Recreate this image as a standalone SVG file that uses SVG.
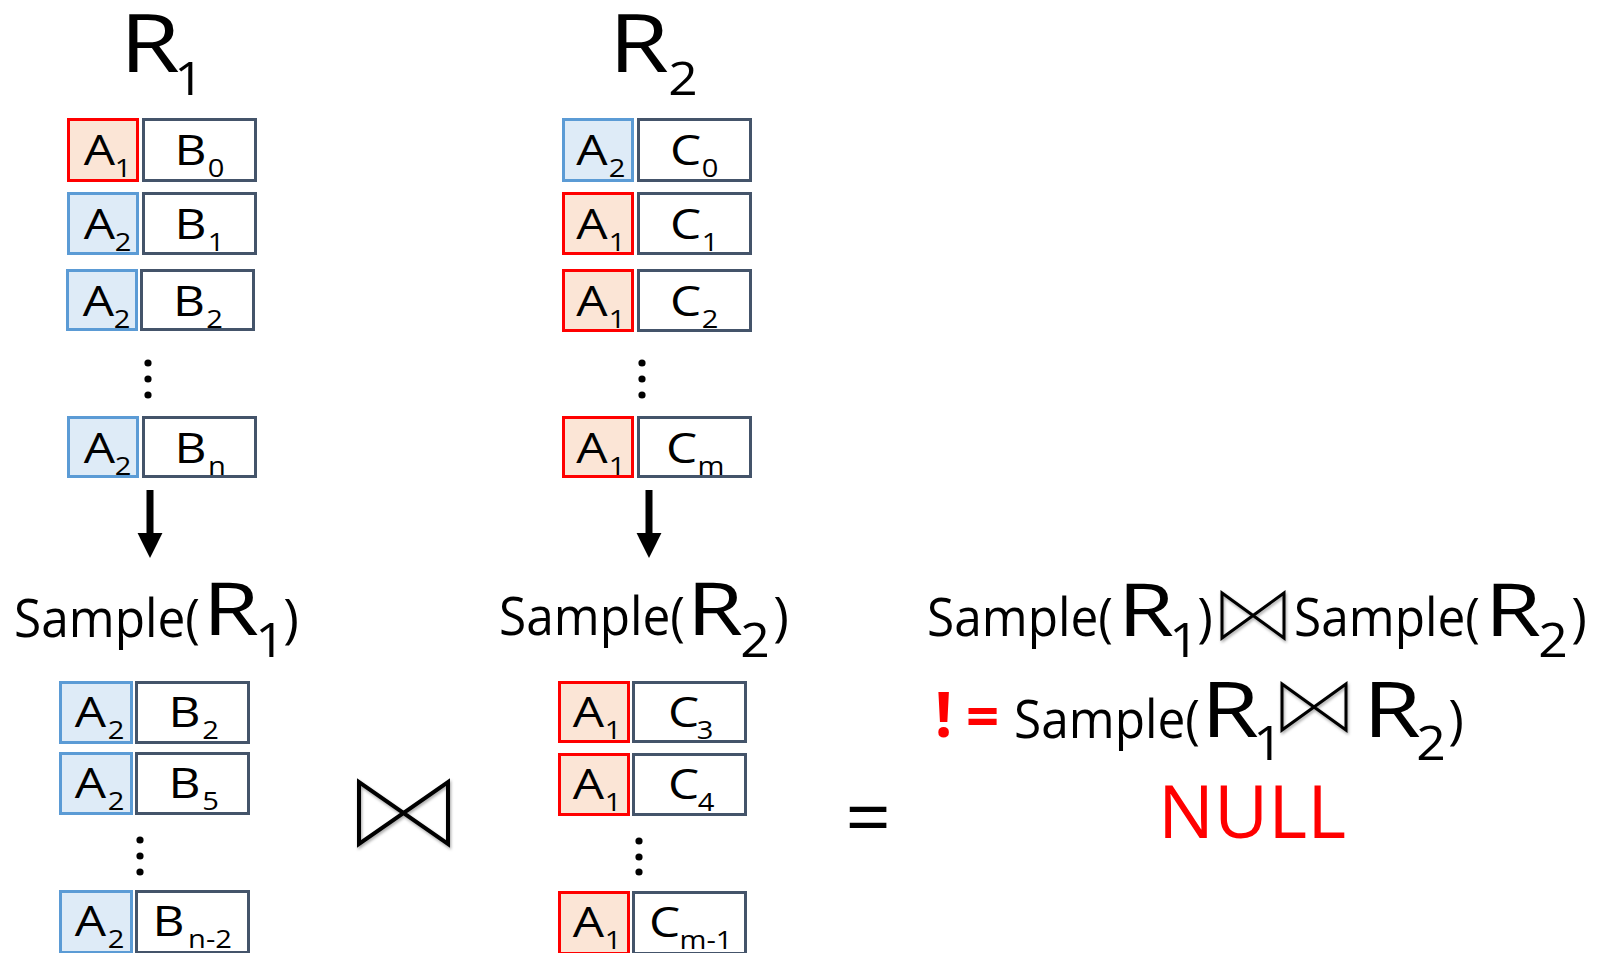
<svg xmlns="http://www.w3.org/2000/svg" width="1606" height="953" viewBox="0 0 1606 953">
<style>
text { font-family: 'Open Sans','Noto Sans','Liberation Sans',sans-serif; fill:#000; }
.m { font-size:42px; text-anchor:middle; transform-box:fill-box; transform-origin:center; transform:scaleX(1.18); }
.s { font-size:26px; text-anchor:middle; transform-box:fill-box; transform-origin:center; transform:scaleX(1.12); }
.tr { font-size:80px; text-anchor:middle; transform-box:fill-box; transform-origin:center; transform:scaleX(1.22); }
.ts { font-size:46px; text-anchor:middle; transform-box:fill-box; transform-origin:center; transform:scaleX(1.12); }
.sm { font-size:53px; }
.sp { font-size:53px; text-anchor:middle; }
.br { font-size:73px; text-anchor:middle; transform-box:fill-box; transform-origin:center; transform:scaleX(1.25); }
.br2 { font-size:77px; text-anchor:middle; transform-box:fill-box; transform-origin:center; transform:scaleX(1.22); }
.bs { font-size:47px; text-anchor:middle; transform-box:fill-box; transform-origin:center; transform:scaleX(1.1); }
.ar { fill:#FBE5D6; stroke:#FF0000; stroke-width:3; }
.ab { fill:#DEEBF7; stroke:#5B9BD5; stroke-width:3; }
.bc { fill:#FFFFFF; stroke:#44546A; stroke-width:3; }
.dot { fill:#000; }
.bow { fill:none; stroke:#000; stroke-linejoin:miter; filter:url(#sh); }
.neq { font-size:62px; font-weight:bold; fill:#FF0000; text-anchor:middle; }
.null { font-size:73px; fill:#FF0000; }
.arrow { stroke:#000; stroke-width:7; marker-end:url(#ah); }
</style>
<defs>
<marker id="ah" markerUnits="userSpaceOnUse" markerWidth="26" markerHeight="26" viewBox="0 0 24 23" refX="0" refY="11.5" orient="auto">
<path d="M0,0 L23,11.5 L0,23 Z" fill="#000"/>
</marker>
<filter id="sh" x="-20%" y="-20%" width="150%" height="150%">
<feDropShadow dx="1" dy="2" stdDeviation="1.5" flood-color="#000" flood-opacity="0.35"/>
</filter>
</defs>

<g id="r1-title">
<text class="tr" x="150" y="72">R</text>
<text class="ts" x="189" y="95">1</text>
</g>

<g id="r2-title">
<text class="tr" x="639" y="72">R</text>
<text class="ts" x="683" y="95">2</text>
</g>

<g id="r1-table">
<rect class="ar" x="68.5" y="119.5" width="69" height="61"/>
<rect class="bc" x="143.5" y="119.5" width="112" height="61"/>
<text class="m" x="99.5" y="165">A</text><text class="s" x="123" y="177">1</text>
<text class="m" x="190.5" y="165">B</text><text class="s" x="216" y="177">0</text>

<rect class="ab" x="68.5" y="193.5" width="69" height="60"/>
<rect class="bc" x="143.5" y="193.5" width="112" height="60"/>
<text class="m" x="99.5" y="239">A</text><text class="s" x="123" y="251">2</text>
<text class="m" x="190.5" y="239">B</text><text class="s" x="216" y="251">1</text>

<rect class="ab" x="67.5" y="270.5" width="69" height="59"/>
<rect class="bc" x="141.5" y="270.5" width="112" height="59"/>
<text class="m" x="98.5" y="316">A</text><text class="s" x="122" y="328">2</text>
<text class="m" x="189" y="316">B</text><text class="s" x="214.5" y="328">2</text>

<circle class="dot" cx="148" cy="363" r="3.6"/>
<circle class="dot" cx="148" cy="379" r="3.6"/>
<circle class="dot" cx="148" cy="395" r="3.6"/>

<rect class="ab" x="68.5" y="417.5" width="69" height="59"/>
<rect class="bc" x="143.5" y="417.5" width="112" height="59"/>
<text class="m" x="99.5" y="463">A</text><text class="s" x="123" y="475">2</text>
<text class="m" x="190.5" y="463">B</text><text class="s" x="217" y="475">n</text>
</g>

<g id="r2-table">
<rect class="ab" x="563.5" y="119.5" width="69" height="61"/>
<rect class="bc" x="638.5" y="119.5" width="112" height="61"/>
<text class="m" x="592" y="165">A</text><text class="s" x="617" y="177">2</text>
<text class="m" x="685.5" y="165">C</text><text class="s" x="710" y="177">0</text>

<rect class="ar" x="563.5" y="193.5" width="69" height="60"/>
<rect class="bc" x="638.5" y="193.5" width="112" height="60"/>
<text class="m" x="592" y="239">A</text><text class="s" x="617" y="251">1</text>
<text class="m" x="685.5" y="239">C</text><text class="s" x="710" y="251">1</text>

<rect class="ar" x="563.5" y="270.5" width="69" height="60"/>
<rect class="bc" x="638.5" y="270.5" width="112" height="60"/>
<text class="m" x="592" y="316">A</text><text class="s" x="617" y="328">1</text>
<text class="m" x="685.5" y="316">C</text><text class="s" x="710" y="328">2</text>

<circle class="dot" cx="642" cy="363" r="3.6"/>
<circle class="dot" cx="642" cy="379" r="3.6"/>
<circle class="dot" cx="642" cy="395" r="3.6"/>

<rect class="ar" x="563.5" y="417.5" width="69" height="59"/>
<rect class="bc" x="638.5" y="417.5" width="112" height="59"/>
<text class="m" x="592" y="463">A</text><text class="s" x="617" y="475">1</text>
<text class="m" x="681.5" y="463">C</text><text class="s" x="711" y="475">m</text>
</g>

<g id="connectors">
<line class="arrow" x1="150" y1="490" x2="150" y2="533"/>
<line class="arrow" x1="649" y1="490" x2="649" y2="533"/>
</g>

<g id="sample-r1-label">
<text class="sm" x="14" y="637" textLength="186" lengthAdjust="spacingAndGlyphs">Sample(</text>
<text class="br" x="231" y="635">R</text>
<text class="bs" x="270" y="657">1</text>
<text class="sp" x="291" y="637">)</text>
</g>

<g id="sample-r2-label">
<text class="sm" x="499" y="635" textLength="186" lengthAdjust="spacingAndGlyphs">Sample(</text>
<text class="br" x="715" y="635">R</text>
<text class="bs" x="755" y="657">2</text>
<text class="sp" x="781" y="635">)</text>
</g>

<g id="sample-r1-table">
<rect class="ab" x="60.5" y="682.5" width="71" height="60"/>
<rect class="bc" x="136.5" y="682.5" width="112" height="60"/>
<text class="m" x="90.5" y="727">A</text><text class="s" x="116" y="739">2</text>
<text class="m" x="184.5" y="727">B</text><text class="s" x="210.5" y="739">2</text>

<rect class="ab" x="60.5" y="753.5" width="71" height="60"/>
<rect class="bc" x="136.5" y="753.5" width="112" height="60"/>
<text class="m" x="90.5" y="798">A</text><text class="s" x="116" y="810">2</text>
<text class="m" x="184.5" y="798">B</text><text class="s" x="210.5" y="810">5</text>

<circle class="dot" cx="140" cy="840" r="3.6"/>
<circle class="dot" cx="140" cy="856" r="3.6"/>
<circle class="dot" cx="140" cy="872" r="3.6"/>

<rect class="ab" x="60.5" y="891.5" width="71" height="61"/>
<rect class="bc" x="136.5" y="891.5" width="112" height="61"/>
<text class="m" x="90.5" y="936">A</text><text class="s" x="116" y="948">2</text>
<text class="m" x="168.5" y="936">B</text><text class="s" x="210" y="948">n-2</text>
</g>

<g id="join-op">
<path class="bow" stroke-width="4" d="M359,782 L359,844 L448,782 L448,844 Z"/>
</g>

<g id="sample-r2-table">
<rect class="ar" x="559.5" y="682.5" width="69" height="59"/>
<rect class="bc" x="633.5" y="682.5" width="112" height="59"/>
<text class="m" x="588.5" y="727">A</text><text class="s" x="613" y="739">1</text>
<text class="m" x="683.5" y="727">C</text><text class="s" x="705" y="739">3</text>

<rect class="ar" x="559.5" y="754.5" width="69" height="60"/>
<rect class="bc" x="633.5" y="754.5" width="112" height="60"/>
<text class="m" x="588.5" y="799">A</text><text class="s" x="613" y="811">1</text>
<text class="m" x="683.5" y="799">C</text><text class="s" x="706" y="811">4</text>

<circle class="dot" cx="639" cy="841" r="3.6"/>
<circle class="dot" cx="639" cy="857" r="3.6"/>
<circle class="dot" cx="639" cy="872" r="3.6"/>

<rect class="ar" x="559.5" y="892.5" width="69" height="61"/>
<rect class="bc" x="633.5" y="892.5" width="112" height="61"/>
<text class="m" x="588.5" y="937">A</text><text class="s" x="613" y="949">1</text>
<text class="m" x="664.5" y="937">C</text><text class="s" x="706" y="949">m-1</text>
</g>

<g id="equals">
<text x="868" y="846" style="font-size:80px;text-anchor:middle">=</text>
</g>

<g id="result-line1">
<text class="sm" x="927" y="636" textLength="186" lengthAdjust="spacingAndGlyphs">Sample(</text>
<text class="br" x="1146" y="636">R</text>
<text class="bs" x="1184" y="657">1</text>
<text class="sp" x="1205" y="636">)</text>
<path class="bow" stroke-width="3" d="M1222,593 L1222,638 L1284,593 L1284,638 Z"/>
<text class="sm" x="1294" y="636" textLength="186" lengthAdjust="spacingAndGlyphs">Sample(</text>
<text class="br" x="1513" y="636">R</text>
<text class="bs" x="1553" y="657">2</text>
<text class="sp" x="1579" y="636">)</text>
</g>

<g id="result-line2">
<text class="neq"><tspan x="943.5" y="737">!</tspan><tspan x="982.5" y="737" style="font-size:58px">=</tspan></text>
<text class="sm" x="1014" y="738" textLength="186" lengthAdjust="spacingAndGlyphs">Sample(</text>
<text class="br2" x="1230" y="737">R</text>
<text class="bs" x="1268" y="760">1</text>
<path class="bow" stroke-width="3" d="M1282,684 L1282,730 L1346,684 L1346,730 Z"/>
<text class="br2" x="1392" y="737">R</text>
<text class="bs" x="1431" y="760">2</text>
<text class="sp" x="1456" y="738">)</text>
</g>

<g id="result-null">
<text class="null" x="1158" y="838" textLength="188" lengthAdjust="spacingAndGlyphs">NULL</text>
</g>
</svg>
